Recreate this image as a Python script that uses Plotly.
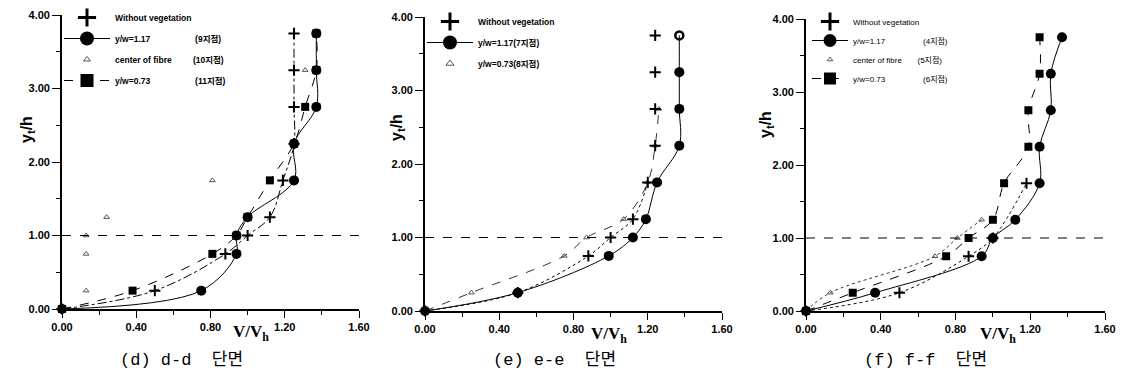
import plotly.graph_objects as go

# ---------------- data ----------------
# (d) d-d
d_plus_x = [0.0, 0.50, 0.88, 1.00, 1.12, 1.19, 1.25, 1.25, 1.25, 1.25]
d_plus_y = [0.0, 0.25, 0.75, 1.00, 1.25, 1.75, 2.25, 2.75, 3.25, 3.75]
d_circ_x = [0.0, 0.75, 0.94, 0.94, 1.00, 1.25, 1.25, 1.37, 1.37, 1.37]
d_circ_y = [0.0, 0.25, 0.75, 1.00, 1.25, 1.75, 2.25, 2.75, 3.25, 3.75]
d_tri_x = [0.0, 0.13, 0.13, 0.13, 0.24, 0.81, 1.31]
d_tri_y = [0.0, 0.25, 0.75, 1.00, 1.25, 1.75, 3.25]
d_sq_x = [0.0, 0.38, 0.81, 0.94, 1.00, 1.12, 1.25, 1.31, 1.37, 1.37]
d_sq_y = [0.0, 0.25, 0.75, 1.00, 1.25, 1.75, 2.25, 2.75, 3.25, 3.75]

# (e) e-e
e_plus_x = [0.0, 0.50, 0.88, 1.00, 1.12, 1.20, 1.24, 1.24, 1.24, 1.24]
e_plus_y = [0.0, 0.25, 0.75, 1.00, 1.25, 1.75, 2.25, 2.75, 3.25, 3.75]
e_circ_x = [0.0, 0.50, 0.99, 1.12, 1.19, 1.25, 1.37, 1.37, 1.37, 1.37]
e_circ_y = [0.0, 0.25, 0.75, 1.00, 1.25, 1.75, 2.25, 2.75, 3.25, 3.75]
e_tri_x = [0.0, 0.25, 0.75, 0.87, 1.07, 1.20, 1.24, 1.26]
e_tri_y = [0.0, 0.25, 0.75, 1.00, 1.25, 1.75, 2.25, 2.75]

# (f) f-f
f_plus_x = [0.0, 0.50, 0.87, 1.00, 1.18]
f_plus_y = [0.0, 0.25, 0.75, 1.00, 1.75]
f_circ_x = [0.0, 0.37, 0.94, 1.00, 1.12, 1.25, 1.25, 1.31, 1.31, 1.37]
f_circ_y = [0.0, 0.25, 0.75, 1.00, 1.25, 1.75, 2.25, 2.75, 3.25, 3.75]
f_tri_x = [0.0, 0.13, 0.69, 0.81, 0.94]
f_tri_y = [0.0, 0.25, 0.75, 1.00, 1.25]
f_sq_x = [0.0, 0.25, 0.75, 0.87, 1.00, 1.06, 1.19, 1.19, 1.25, 1.25]
f_sq_y = [0.0, 0.25, 0.75, 1.00, 1.25, 1.75, 2.25, 2.75, 3.25, 3.75]

REF_LEVEL = 1.0
X_TICKS = [0.0, 0.4, 0.8, 1.2, 1.6]
Y_TICKS = [0.0, 1.0, 2.0, 3.0, 4.0]

CAPTIONS = ["(d) d-d  단면", "(e) e-e  단면", "(f) f-f  단면"]
NB = "\u00a0"
LEG_D = ["Without vegetation",
         "y/w=1.17" + NB * 19 + "(9지점)",
         "center of fibre" + NB * 9 + "(10지점)",
         "y/w=0.73" + NB * 19 + "(11지점)"]
LEG_E = ["Without vegetation", "y/w=1.17(7지점)", "y/w=0.73(8지점)"]
LEG_F = ["Without vegetation",
         "y/w=1.17" + NB * 17 + "(4지점)",
         "center of fibre" + NB * 7 + "(5지점)",
         "y/w=0.73" + NB * 17 + "(6지점)"]

W, H = 1121, 385
# panel pixel boxes: (left, right, bottom, top)
PANELS = [(62, 359, 309, 15), (425, 722, 311, 17), (806, 1105, 311, 19)]

fig = go.Figure()

BLACK = "black"
GREY = "#555555"


def add_line(ax, x, y, dash, width=1.0, shape="spline"):
    fig.add_trace(go.Scatter(x=x, y=y, mode="lines", xaxis="x" + ax, yaxis="y" + ax,
                             line=dict(color=BLACK, width=width, dash=dash, shape=shape, smoothing=1.0),
                             showlegend=False, hoverinfo="skip", cliponaxis=False))


def add_markers(ax, x, y, symbol, size, color=BLACK, lw=0):
    fig.add_trace(go.Scatter(x=x, y=y, mode="markers", xaxis="x" + ax, yaxis="y" + ax,
                             marker=dict(symbol=symbol, size=size, color=color,
                                         line=dict(color=color, width=lw)),
                             showlegend=False, cliponaxis=False))


_grp = [0]


def add_legend(legend, name, mode, symbol, size, dash="solid", color=BLACK, lw=0):
    _grp[0] += 1
    fig.add_trace(go.Scatter(x=[None], y=[None], mode=mode, name=name, legend=legend,
                             legendgroup="g%d" % _grp[0],
                             marker=dict(symbol=symbol, size=size, color=color,
                                         line=dict(color=color, width=lw)),
                             line=dict(color=BLACK, width=1.2, dash=dash),
                             showlegend=True))


# ---- panel d ----
ax = ""
add_line(ax, d_circ_x, d_circ_y, "solid")
add_line(ax, d_sq_x, d_sq_y, "dash")
add_line(ax, d_plus_x, d_plus_y, "dashdot")
add_markers(ax, d_tri_x, d_tri_y, "triangle-up-open", 5, GREY, 1)
add_markers(ax, d_plus_x, d_plus_y, "cross-thin", 8, BLACK, 2)
add_markers(ax, d_sq_x, d_sq_y, "square", 8)
add_markers(ax, d_circ_x, d_circ_y, "circle", 10)
add_legend("legend", LEG_D[0], "markers", "cross-thin", 13, lw=3)
add_legend("legend", LEG_D[1], "lines+markers", "circle", 14)
add_legend("legend", LEG_D[2], "markers", "triangle-up-open", 6, color=GREY, lw=1)
add_legend("legend", LEG_D[3], "lines+markers", "square", 13, dash="dash")

# ---- panel e ----
ax = "2"
add_line(ax, e_circ_x, e_circ_y, "solid")
add_line(ax, e_tri_x, e_tri_y, "dash", 0.8)
add_line(ax, e_plus_x[:6], e_plus_y[:6], "dot", 1.0)
add_markers(ax, e_tri_x, e_tri_y, "triangle-up-open", 5, GREY, 1)
add_markers(ax, e_plus_x, e_plus_y, "cross-thin", 8, BLACK, 2)
add_markers(ax, e_circ_x[:-1], e_circ_y[:-1], "circle", 10)
add_markers(ax, e_circ_x[-1:], e_circ_y[-1:], "circle-open", 8, BLACK, 2.5)
add_legend("legend2", LEG_E[0], "markers", "cross-thin", 13, lw=3)
add_legend("legend2", LEG_E[1], "lines+markers", "circle", 14)
add_legend("legend2", LEG_E[2], "markers", "triangle-up-open", 7, color=GREY, lw=1)

# ---- panel f ----
ax = "3"
add_line(ax, f_circ_x, f_circ_y, "solid")
add_line(ax, f_sq_x, f_sq_y, "dash")
add_line(ax, f_plus_x, f_plus_y, "dot")
add_line(ax, f_tri_x, f_tri_y, "dot", 0.8)
add_markers(ax, f_tri_x, f_tri_y, "triangle-up-open", 5, GREY, 1)
add_markers(ax, f_plus_x, f_plus_y, "cross-thin", 8, BLACK, 2)
add_markers(ax, f_sq_x, f_sq_y, "square", 8)
add_markers(ax, f_circ_x, f_circ_y, "circle", 10)
add_legend("legend3", LEG_F[0], "markers", "cross-thin", 13, lw=3)
add_legend("legend3", LEG_F[1], "lines+markers", "circle", 13)
add_legend("legend3", LEG_F[2], "markers", "triangle-up-open", 5, color=GREY, lw=1)
add_legend("legend3", LEG_F[3], "lines+markers", "square", 12, dash="dash")

tickfont = dict(family="Liberation Sans, Arial", size=11, color=BLACK, weight="bold")
layout = dict(width=W, height=H, margin=dict(l=0, r=0, t=0, b=0),
              paper_bgcolor="white", plot_bgcolor="white", showlegend=True,
              font=dict(family="Liberation Sans, Noto Sans CJK KR", color=BLACK))

annotations = []
shapes = []
y_title_px = [(27, 130), (397, 127), (766, 125)]
x_title_px = [(251, 333), (609, 335), (998, 335)]
cap_px = [(181, 360), (554, 360), (925, 360)]
for i, (l, r, b, t) in enumerate(PANELS):
    sfx = "" if i == 0 else str(i + 1)
    layout["xaxis" + sfx] = dict(domain=[l / W, r / W], anchor="y" + sfx, range=[0, 1.6],
                                 tickvals=X_TICKS, tickformat=".2f", ticks="outside", ticklen=7,
                                 tickwidth=1.3, tickcolor=BLACK, showline=True, linecolor=BLACK,
                                 linewidth=1.6, showgrid=False, zeroline=False, tickfont=tickfont,
                                 minor=dict(dtick=0.2, tick0=0, ticks="outside", ticklen=4,
                                            tickcolor=BLACK, tickwidth=1, showgrid=False),
                                 automargin=False)
    layout["yaxis" + sfx] = dict(domain=[1 - b / H, 1 - t / H], anchor="x" + sfx, range=[0, 4],
                                 tickvals=Y_TICKS, tickformat=".2f", ticks="outside", ticklen=8,
                                 tickwidth=1.3, tickcolor=BLACK, showline=True, linecolor=BLACK,
                                 linewidth=1.6, showgrid=False, zeroline=False, tickfont=tickfont,
                                 minor=dict(dtick=0.5, tick0=0, ticks="outside", ticklen=4,
                                            tickcolor=BLACK, tickwidth=1, showgrid=False),
                                 automargin=False)
    shapes.append(dict(type="line", xref="x" + sfx + " domain", yref="y" + sfx,
                       x0=0, x1=1.015, y0=REF_LEVEL, y1=REF_LEVEL,
                       line=dict(color=BLACK, width=1, dash="dash")))
    yx, yy = y_title_px[i]
    annotations.append(dict(text="y<sub>t</sub>/h", x=yx / W, y=1 - yy / H, xref="paper", yref="paper",
                            xanchor="center", yanchor="middle", showarrow=False, textangle=-90,
                            font=dict(family="Liberation Sans, Arial", size=16, color=BLACK, weight="bold")))
    xx, xy = x_title_px[i]
    annotations.append(dict(text="V/V<sub>h</sub>", x=xx / W, y=1 - xy / H, xref="paper", yref="paper",
                            xanchor="center", yanchor="middle", showarrow=False,
                            font=dict(family="Liberation Serif, Times New Roman", size=17, color=BLACK,
                                      weight="bold")))
    cx, cy = cap_px[i]
    annotations.append(dict(text=CAPTIONS[i], x=cx / W, y=1 - cy / H, xref="paper", yref="paper",
                            xanchor="center", yanchor="middle", showarrow=False,
                            font=dict(family="Liberation Mono, Noto Sans CJK KR", size=17, color=BLACK)))

leg_common = dict(bgcolor="rgba(0,0,0,0)", borderwidth=0, itemsizing="trace", xanchor="left",
                  yanchor="top", itemclick=False, itemdoubleclick=False, tracegroupgap=2,
                  itemwidth=46)
layout["legend"] = dict(leg_common, x=59 / W, y=1 - 3 / H,
                        font=dict(family="Liberation Sans, Noto Sans CJK KR", size=8.5, color=BLACK,
                                  weight="bold"))
layout["legend2"] = dict(leg_common, x=422 / W, y=1 - 7 / H,
                         font=dict(family="Liberation Sans, Noto Sans CJK KR", size=8.5, color=BLACK,
                                   weight="bold"))
layout["legend3"] = dict(leg_common, x=807 / W, y=1 - 7 / H, tracegroupgap=0, itemwidth=36,
                         font=dict(family="Liberation Sans, Noto Sans CJK KR", size=8, color=BLACK))
layout["annotations"] = annotations
layout["shapes"] = shapes
fig.update_layout(**layout)

fig.write_html("out.html", config={"displayModeBar": False},
               post_script="document.body.style.margin='0';document.body.style.overflow='hidden';")
